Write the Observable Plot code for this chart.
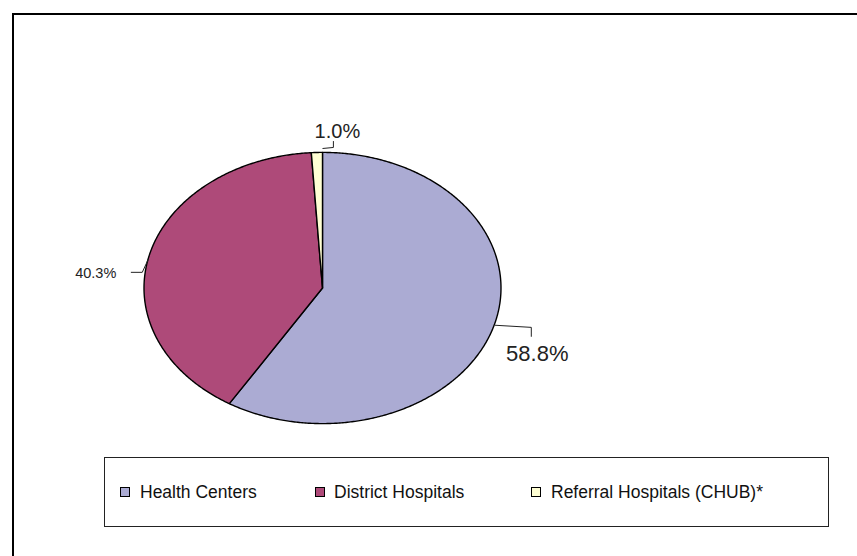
<!DOCTYPE html>
<html><head><meta charset="utf-8">
<script src="https://cdn.jsdelivr.net/npm/d3@7"></script>
<script src="https://cdn.jsdelivr.net/npm/@observablehq/plot@0.6"></script>
<style>
body{margin:0;background:#fff;font-family:"Liberation Sans",Arial,sans-serif;}
#chart{position:absolute;left:0;top:0;}
#frame{position:absolute;left:12px;top:13px;width:900px;height:600px;border:2px solid #000;box-sizing:border-box;background:transparent;}
#legend{position:absolute;left:104px;top:457px;width:725px;height:70px;border:1.5px solid #222;box-sizing:border-box;background:#fff;}
.sw{position:absolute;top:29px;width:10px;height:10px;border:1.2px solid #000;box-sizing:border-box;}
.lt{position:absolute;top:23px;font-size:17.5px;line-height:22px;color:#111;white-space:nowrap;}
</style>
</head><body>
<div id="chart"></div>
<div id="legend"></div>
<div id="frame"></div>
<script>
// ---- data ----
const categories = ["Health Centers", "District Hospitals", "Referral Hospitals (CHUB)*"];
const values = [58.8, 40.3, 1.0];
const labels = ["58.8%", "40.3%", "1.0%"];
const colors = ["#ABABD3", "#AE4A79", "#FFFFD4"];

// ---- layout ----
const W = 857, H = 445;
const cx = 322, cy = 287.5, rx = 178.5, ry = 135.6;
const labelLayout = [
  {dx: 43, dy: 29, size: 22, leader: [[1, 0.5], [37, 2.6], [37, 11.6]]},
  {dx: -53.5, dy: 18, size: 14.5, leader: [[-1, 4], [-7, 17], [-18, 17]]},
  {dx: 20.5, dy: -20.5, size: 20, leader: [[6, -4], [16.5, -5], [16.5, -11]]}
];
const legendX = [[15, 35], [210, 229], [426, 446]];

const arcs = d3.pie().sort(null).value(d => d)(values);
const pt = a => [cx + rx * Math.sin(a), cy - ry * Math.cos(a)];

const slicePts = [];
arcs.forEach((a, i) => {
  const n = Math.max(2, Math.ceil((a.endAngle - a.startAngle) / (Math.PI / 360)));
  slicePts.push({cat: categories[i], x: cx, y: cy});
  for (let k = 0; k <= n; k++) {
    const [x, y] = pt(a.startAngle + (a.endAngle - a.startAngle) * k / n);
    slicePts.push({cat: categories[i], x, y});
  }
  slicePts.push({cat: categories[i], x: cx, y: cy});
});

const leaderPts = [];
const labelRows = [];
arcs.forEach((a, i) => {
  const [ex, ey] = pt((a.startAngle + a.endAngle) / 2);
  const L = labelLayout[i];
  L.leader.forEach(([ox, oy]) => leaderPts.push({cat: categories[i], x: ex + ox, y: ey + oy}));
  labelRows.push({cat: categories[i], x: ex + L.dx, y: ey + L.dy, label: labels[i], size: L.size});
});

const plot = Plot.plot({
  width: W, height: H, margin: 0,
  x: {domain: [0, W], range: [0, W], axis: null},
  y: {domain: [0, H], range: [0, H], axis: null},
  color: {domain: categories, range: colors},
  style: {fontFamily: "Liberation Sans, Arial, sans-serif", background: "none", overflow: "visible"},
  marks: [
    Plot.line(slicePts, {x: "x", y: "y", z: "cat", fill: "cat", stroke: "#000", strokeWidth: 1.4, strokeLinejoin: "round"}),
    Plot.line(leaderPts, {x: "x", y: "y", z: "cat", stroke: "#222", strokeWidth: 1}),
    Plot.text(labelRows, {x: "x", y: "y", text: "label", fontSize: "size", fill: "#222"})
  ]
});
document.getElementById("chart").appendChild(plot);

// ---- legend ----
const legend = document.getElementById("legend");
categories.forEach((c, i) => {
  const sw = document.createElement("div");
  sw.className = "sw";
  sw.style.left = legendX[i][0] + "px";
  sw.style.background = colors[i];
  legend.appendChild(sw);
  const t = document.createElement("div");
  t.className = "lt";
  t.style.left = legendX[i][1] + "px";
  t.textContent = c;
  legend.appendChild(t);
});
</script>
</body></html>
